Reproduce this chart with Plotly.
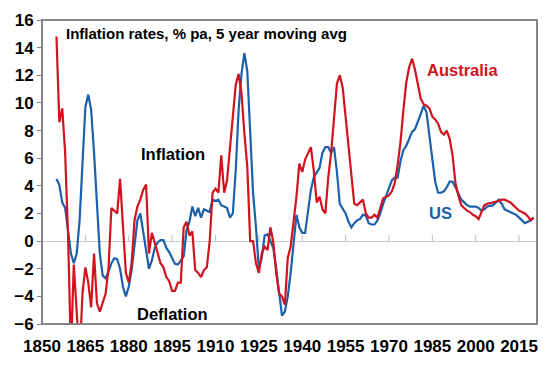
import plotly.graph_objects as go

years = list(range(1855, 2021))

australia = [
    14.8, 8.6, 9.6, 6.4, 0.5, -8.0, -1.7, -5.5, -8.5, -3.8,
    -1.9, -3.0, -4.8, -0.9, -4.5, -5.1, -4.4, -3.8, -2.0, 2.4,
    2.2, 2.0, 4.5, 1.0, -2.3, -3.0, -1.6, 1.5, 2.5, 3.0,
    3.7, 4.1, -0.9, 0.6, -0.2, -0.9, -1.6, -1.9, -2.6, -2.9,
    -3.6, -3.6, -3.0, -3.0, 1.0, 1.4, 0.4, 0.7, -2.1, -2.3,
    -2.6, -2.1, -1.9, 0.0, 3.5, 3.8, 3.5, 6.2, 3.5, 4.4,
    6.8, 9.5, 11.3, 12.1, 10.7, 7.8, 5.4, 0.0, 0.0, -1.6,
    -2.3, -0.9, -0.4, -0.65, 1.0, -0.1, -2.3, -3.8, -4.0, -4.6,
    -1.2, -0.4, 1.5, 3.2, 5.6, 5.0, 5.9, 6.4, 6.8, 5.1,
    2.8, 3.2, 2.3, 2.0, 4.6, 6.4, 9.0, 11.4, 12.0, 11.1,
    9.0, 6.8, 4.9, 2.7, 2.6, 2.8, 3.0, 2.0, 1.7, 1.7,
    1.9, 1.7, 2.4, 3.1, 3.2, 3.3, 3.6, 4.2, 5.5, 7.2,
    9.5, 11.5, 12.6, 13.2, 12.4, 11.2, 10.3, 9.9, 9.8, 9.6,
    9.0, 8.8, 8.5, 7.9, 7.7, 8.0, 7.4, 6.2, 4.2, 3.3,
    2.6, 2.4, 2.2, 2.1, 1.9, 1.8, 1.6, 2.1, 2.6, 2.7,
    2.75, 2.8, 2.8, 2.9, 3.0, 3.0, 2.9, 2.8, 2.6, 2.4,
    2.2, 2.1, 2.0, 1.8, 1.5, 1.7,
]

us = [
    4.5, 4.05, 2.8, 2.4, 0.8, -0.9, -1.6, -0.9, 1.5, 5.9,
    9.7, 10.6, 9.5, 6.4, 2.5, -0.9, -2.5, -2.7, -2.2, -1.6,
    -1.25, -1.3, -2.0, -3.3, -4.0, -3.3, -2.1, -0.4, 1.5, 2.0,
    0.6, -0.9, -2.0, -1.4, -0.5, -0.1, 0.07, 0.07, -0.5, -0.8,
    -1.25, -1.65, -1.7, -1.4, -1.1, 0.8, 1.4, 2.5, 1.8, 2.4,
    1.7, 2.3, 2.2, 2.1, 3.0, 2.9, 3.0, 2.6, 2.5, 2.4,
    1.7, 2.0, 5.1, 9.5, 12.1, 13.6, 12.3, 7.5, 3.5, 1.0,
    -2.0, -1.2, 0.4, 0.5, 0.0, -0.5, -2.0, -3.8, -5.4, -5.1,
    -4.0, -2.3, 0.0, 1.9, 1.0, 0.6, 0.6, 2.0, 3.7, 4.6,
    5.0, 5.3, 6.4, 6.8, 6.8, 6.4, 6.8, 5.0, 2.7, 2.3,
    2.0, 1.4, 1.0, 1.3, 1.5, 1.6, 1.9, 1.85, 1.3, 1.2,
    1.2, 1.5, 2.0, 2.7, 3.3, 3.9, 4.4, 4.6, 4.6, 5.8,
    6.6, 6.9, 7.4, 7.9, 8.1, 8.6, 9.2, 9.8, 9.3, 7.6,
    5.9, 4.3, 3.5, 3.5, 3.6, 3.9, 4.3, 4.3, 3.9, 3.4,
    3.0, 2.8, 2.6, 2.5, 2.5, 2.5, 2.4, 2.2, 2.3, 2.5,
    2.55, 2.6, 2.8, 3.0, 2.7, 2.3, 2.2, 2.1, 2.0, 1.9,
    1.7, 1.5, 1.3, 1.4, 1.5, 1.7,
]

x_ticks = list(range(1850, 2016, 15))
y_ticks = list(range(-6, 17, 2))

RED = "#D2121C"
BLUE = "#1C5FAB"
FRAME = "#858585"
FONT = "Liberation Sans, Arial, sans-serif"

assert len(australia) == len(years) and len(us) == len(years)

xr = [1850, 2021.2]
yr = [-6, 16]

fig = go.Figure()

# small tick marks standing on the zero line (derived from the tick list)
tick_x, tick_y = [], []
for t in x_ticks[1:]:
    tick_x += [t, t, None]
    tick_y += [0, 0.43, None]
fig.add_trace(go.Scatter(x=tick_x, y=tick_y, mode="lines", hoverinfo="skip",
                         line=dict(color="#bdbdbd", width=1)))

fig.add_trace(go.Scatter(x=years, y=us, mode="lines", name="US",
                         line=dict(color=BLUE, width=2.2)))
fig.add_trace(go.Scatter(x=years, y=australia, mode="lines", name="Australia",
                         line=dict(color=RED, width=2.2)))

# plot-area frame, drawn along the axis ranges
fig.add_trace(go.Scatter(x=[xr[0], xr[1], xr[1], xr[0], xr[0]],
                         y=[yr[0], yr[0], yr[1], yr[1], yr[0]],
                         mode="lines", hoverinfo="skip",
                         line=dict(color=FRAME, width=2)))

fig.update_layout(
    width=540, height=358,
    margin=dict(l=34, r=11, t=12, b=42, autoexpand=False),
    paper_bgcolor="white", plot_bgcolor="white",
    showlegend=False,
    font=dict(family=FONT, color="black"),
    xaxis=dict(range=xr, tickvals=x_ticks, showgrid=False, zeroline=False,
               showline=True, mirror=True, linecolor=FRAME, linewidth=1,
               ticks="outside", ticklen=7, tickcolor="rgba(0,0,0,0)",
               automargin=False,
               tickfont=dict(size=17, family=FONT, weight="bold", color="black")),
    yaxis=dict(range=yr, tickvals=y_ticks, showgrid=False,
               zeroline=True, zerolinecolor="#c8c8c8", zerolinewidth=1,
               showline=True, mirror=True, linecolor=FRAME, linewidth=1,
               ticks="outside", ticklen=4, tickcolor=FRAME, tickwidth=1,
               automargin=False,
               tickfont=dict(size=17, family=FONT, weight="bold", color="black")),
)

ann = dict(showarrow=False, xref="x", yref="y")
fig.add_annotation(x=1857.6, y=15.0, xanchor="left", yanchor="middle",
                   text="<b>Inflation rates, % pa, 5 year moving avg</b>",
                   font=dict(size=15, family=FONT, color="black"), **ann)
fig.add_annotation(x=1895.3, y=6.3, text="<b>Inflation</b>",
                   font=dict(size=16.5, family=FONT, color="black"), **ann)
fig.add_annotation(x=1895.1, y=-5.25, text="<b>Deflation</b>",
                   font=dict(size=16.5, family=FONT, color="black"), **ann)
fig.add_annotation(x=1995.5, y=12.4, text="<b>Australia</b>",
                   font=dict(size=16.5, family=FONT, color=RED), **ann)
fig.add_annotation(x=1987.8, y=2.0, text="<b>US</b>",
                   font=dict(size=16.5, family=FONT, color=BLUE), **ann)

fig.write_html("out.html")
